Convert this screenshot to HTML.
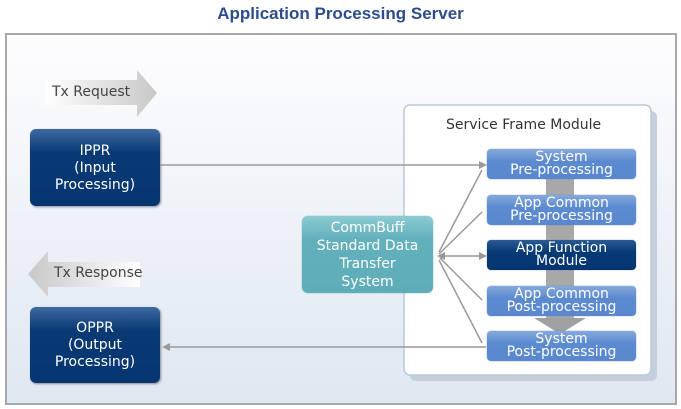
<!DOCTYPE html>
<html><head><style>
body{margin:0;width:681px;height:409px;background:#fff;font-family:"DejaVu Sans",sans-serif;position:relative;overflow:hidden}
.a{position:absolute}
.title{left:0;width:681px;top:4px;text-align:center;font-weight:bold;color:#2d4c8c;font-size:17px;font-family:"Liberation Sans",sans-serif}
.outer{left:5px;top:33px;width:668px;height:368px;border:2px solid #a8a8a8;background:linear-gradient(#fdfdfe,#dfe7f1)}
.dark{background:linear-gradient(#3d6aa0,#0a3a75 30%,#063570);border-radius:6px;color:#fff;text-align:center;font-size:14px;line-height:17px;box-shadow:1px 1px 2px #889}
.sb{left:487px;width:149px;height:30px;border-radius:4px;background:linear-gradient(#86a9dc,#5c8ad0 40%,#5a88cf);color:#fff;text-align:center;font-size:14px;line-height:13px;box-sizing:border-box;padding-top:2px;box-shadow:0 0 1px #4a74b8;white-space:nowrap}
</style></head><body>
<div class="a title">Application Processing Server</div>
<div class="a outer"></div>
<svg class="a" style="left:0;top:0" width="681" height="409">
<defs><linearGradient id="g1" x1="0" x2="1"><stop offset="0" stop-color="#fff"/><stop offset="1" stop-color="#c8c8c8"/></linearGradient>
<linearGradient id="g2" x1="1" x2="0"><stop offset="0" stop-color="#fff"/><stop offset="1" stop-color="#c8c8c8"/></linearGradient></defs>
<polygon points="45,80 137,80 137,70 157,93 137,117 137,105 45,105" fill="url(#g1)"/>
<polygon points="140,262 48,262 48,251 28,274 48,297 48,287 140,287" fill="url(#g2)"/>
<rect x="410" y="111" width="247" height="270" rx="6" fill="#c5cedb"/>
<rect x="404" y="105" width="247" height="270" rx="6" fill="#fff" stroke="#b8c8dc" stroke-width="1.5"/>
<rect x="546" y="178" width="28" height="140" fill="#a8a8a8"/>
<polygon points="534,318 586,318 560,334" fill="#a0a0a0"/>
<g stroke="#999" stroke-width="1.5" fill="none">
<line x1="160" y1="165" x2="482" y2="165"/>
<line x1="168" y1="347" x2="486" y2="347"/>
<line x1="439" y1="252" x2="482" y2="170"/>
<line x1="439" y1="254" x2="482" y2="212"/>
<line x1="440" y1="256" x2="482" y2="256"/>
<line x1="440" y1="258" x2="482" y2="300"/>
<line x1="439" y1="260" x2="482" y2="343"/>
</g>
<g fill="#999">
<polygon points="487,165 479,161 479,169"/>
<polygon points="162,347 170,343 170,351"/>
<polygon points="487,256 479,252 479,260"/>
<polygon points="437,256 445,252 445,260"/>
</g>
</svg>
<div class="a" style="left:52px;top:84px;font-size:14px;color:#444">Tx Request</div>
<div class="a" style="left:54px;top:265px;font-size:14px;color:#444">Tx Response</div>
<div class="a dark" style="left:30px;top:129px;width:130px;height:77px;padding-top:14px;box-sizing:border-box">IPPR<br>(Input<br>Processing)</div>
<div class="a dark" style="left:30px;top:307px;width:130px;height:76px;padding-top:13px;box-sizing:border-box">OPPR<br>(Output<br>Processing)</div>
<div class="a" style="left:446px;top:117px;font-size:14px;color:#333">Service Frame Module</div>
<div class="a sb" style="top:149px">System<br>Pre-processing</div>
<div class="a sb" style="top:195px">App Common<br>Pre-processing</div>
<div class="a sb" style="top:240px;background:linear-gradient(#2a5a94,#063a74 40%,#053570)">App Function<br>Module</div>
<div class="a sb" style="top:286px">App Common<br>Post-processing</div>
<div class="a sb" style="top:331px">System<br>Post-processing</div>
<div class="a" style="left:302px;top:216px;width:131px;height:77px;border-radius:6px;background:linear-gradient(#8ccbd3,#62b0bc 30%,#5eadb9);box-shadow:0 0 1px #4a98a4;color:#fff;text-align:center;font-size:14px;line-height:18px;padding-top:3px;box-sizing:border-box;white-space:nowrap">CommBuff<br>Standard&nbsp;Data<br>Transfer<br>System</div>
</body></html>
